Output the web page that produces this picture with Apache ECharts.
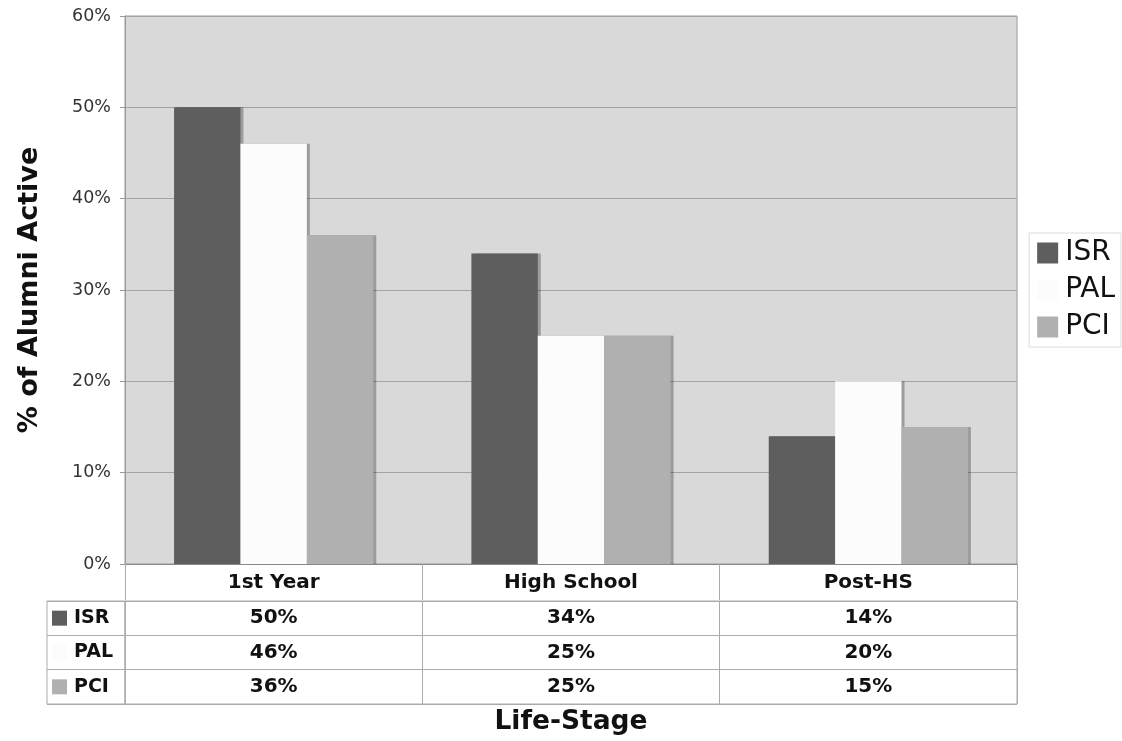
<!DOCTYPE html>
<html>
<head>
<meta charset="utf-8">
<script src="https://cdn.jsdelivr.net/npm/echarts@6/dist/echarts.min.js"></script>
<style>
  html, body { margin: 0; padding: 0; background: #fff; }
  #chart { width: 1122px; height: 741px; }
</style>
</head>
<body>
<div id="chart"></div>
<script>
// 数据
const categories = ['1st Year', 'High School', 'Post-HS'];
const seriesNames = ['ISR', 'PAL', 'PCI'];
const isrValues = [50, 34, 14];
const palValues = [46, 25, 20];
const pciValues = [36, 25, 15];
const yTicks = [0, 10, 20, 30, 40, 50, 60];

const colors = ['#5e5e5e', '#fcfcfc', '#b0b0b0'];
const font = 'DejaVu Sans, Verdana, sans-serif';
const lineColor = '#ababab';

const allValues = [isrValues, palValues, pciValues];

// 表格里的数值，按 [类别, 行, 值]
const tableData = [];
allValues.forEach((vals, r) => {
  vals.forEach((v, c) => tableData.push([c, r, v]));
});

const chart = echarts.init(document.getElementById('chart'));

const option = {
  animation: false,
  textStyle: { fontFamily: font },
  legend: {
    data: seriesNames,
    orient: 'vertical',
    right: 1,
    top: 233,
    backgroundColor: '#fff',
    borderColor: '#dcdcdc',
    borderWidth: 1,
    padding: [6, 6, 6, 8],
    itemWidth: 21,
    itemHeight: 21,
    itemGap: 9,
    icon: 'rect',
    itemStyle: { shadowBlur: 0, shadowOffsetX: 0, shadowOffsetY: 0 },
    textStyle: { fontSize: 28, lineHeight: 28, color: '#111', fontFamily: font, padding: [0, 0, 0, 2] }
  },
  grid: [
    // 柱状图
    { left: 125, right: 105, top: 16, bottom: 176, show: true, backgroundColor: '#d9d9d9', borderColor: '#9a9a9a', borderWidth: 1 },
    // 数据表
    { left: 125, right: 105, top: 601, height: 103, show: true, borderColor: lineColor, borderWidth: 1 },
    // 表格左侧图例列
    { left: 47, width: 78, top: 601, height: 103, show: true, borderColor: lineColor, borderWidth: 1 }
  ],
  xAxis: [
    {
      type: 'category',
      gridIndex: 0,
      data: categories,
      axisLine: { lineStyle: { color: '#888' } },
      axisTick: { show: true, length: 36, lineStyle: { color: lineColor } },
      axisLabel: { margin: 9, fontSize: 20, fontWeight: 'bold', color: '#111', fontFamily: font },
      name: 'Life-Stage',
      nameLocation: 'middle',
      nameGap: 145,
      nameTextStyle: { fontSize: 26.5, fontWeight: 'bold', color: '#111', fontFamily: font }
    },
    {
      type: 'category',
      gridIndex: 1,
      data: categories,
      axisLine: { show: false },
      axisTick: { show: false },
      axisLabel: { show: false },
      splitLine: { show: true, lineStyle: { color: lineColor } }
    },
    {
      type: 'value',
      gridIndex: 2,
      show: false
    }
  ],
  yAxis: [
    {
      type: 'value',
      gridIndex: 0,
      min: 0,
      max: 60,
      interval: 10,
      axisLine: { show: true, lineStyle: { color: '#9a9a9a' } },
      axisTick: { show: true, length: 5, lineStyle: { color: '#9a9a9a' } },
      axisLabel: { formatter: '{value}%', fontSize: 17.5, color: '#333', margin: 14, fontFamily: font },
      splitLine: { show: true, lineStyle: { color: '#a3a3a3', width: 1 } },
      name: '% of Alumni Active',
      nameLocation: 'middle',
      nameRotate: 90,
      nameGap: 82,
      nameTextStyle: { fontSize: 27, fontWeight: 'bold', color: '#111', fontFamily: font }
    },
    {
      type: 'category',
      gridIndex: 1,
      data: seriesNames,
      inverse: true,
      axisLine: { show: false },
      axisTick: { show: false },
      splitLine: { show: true, lineStyle: { color: lineColor } },
      axisLabel: {
        align: 'left',
        margin: 73,
        formatter: (v, i) => '{k' + i + '|}{n|' + v + '}',
        rich: {
          k0: { width: 15, height: 15, backgroundColor: colors[0] },
          k1: { width: 15, height: 15, backgroundColor: colors[1] },
          k2: { width: 15, height: 15, backgroundColor: colors[2] },
          n: { fontSize: 19, fontWeight: 'bold', color: '#111', padding: [0, 0, 0, 7], fontFamily: font }
        }
      }
    },
    {
      type: 'category',
      gridIndex: 2,
      data: seriesNames,
      inverse: true,
      axisLine: { show: false },
      axisTick: { show: false },
      axisLabel: { show: false },
      splitLine: { show: true, lineStyle: { color: lineColor } }
    }
  ],
  series: [
    ...seriesNames.map((name, i) => ({
      name: name,
      type: 'bar',
      xAxisIndex: 0,
      yAxisIndex: 0,
      data: allValues[i],
      barGap: '0%',
      barCategoryGap: '33%',
      itemStyle: {
        color: colors[i],
        shadowColor: 'rgba(0,0,0,0.28)',
        shadowBlur: 0,
        shadowOffsetX: 3,
        shadowOffsetY: 0
      }
    })),
    {
      // 表格中的数值
      name: 'table',
      type: 'scatter',
      xAxisIndex: 1,
      yAxisIndex: 1,
      symbolSize: 0,
      itemStyle: { color: '#000', opacity: 1 },
      data: tableData,
      label: {
        show: true,
        position: 'inside',
        formatter: p => p.value[2] + '%',
        fontSize: 20,
        fontWeight: 'bold',
        color: '#111',
        textBorderWidth: 0,
        fontFamily: font
      }
    }
  ]
};

chart.setOption(option);
</script>
</body>
</html>
